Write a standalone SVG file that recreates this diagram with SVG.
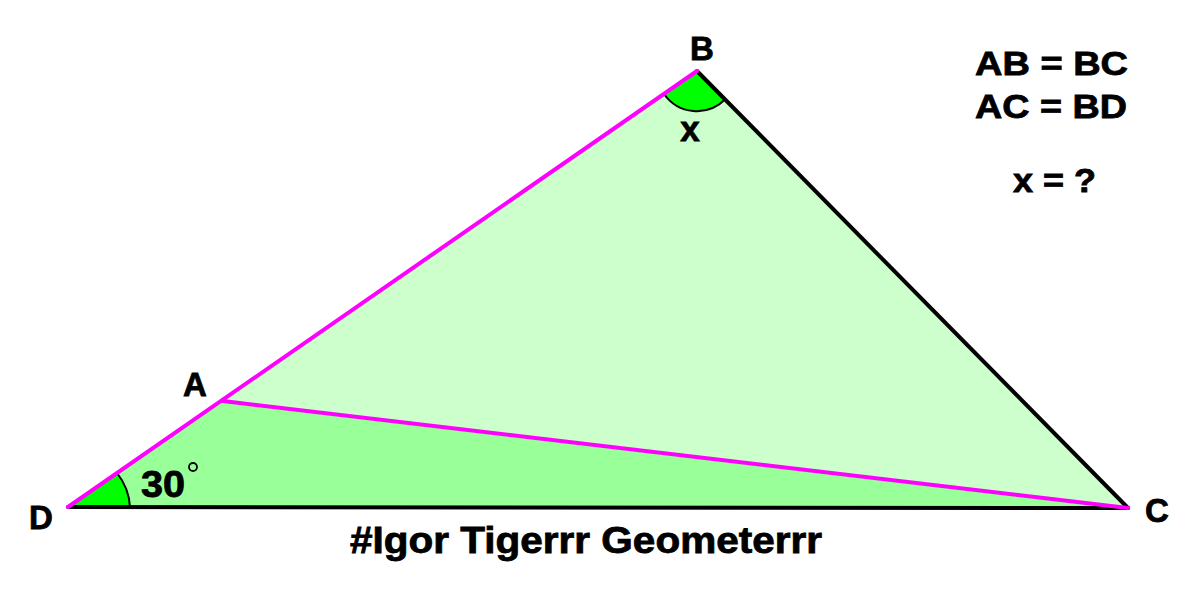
<svg xmlns="http://www.w3.org/2000/svg" width="1200" height="590" viewBox="0 0 1200 590">
<style>
text{font-family:"Liberation Sans",Arial,sans-serif;font-weight:bold;fill:#000;stroke:#000;stroke-width:0.8}
.lbl{font-size:33px}
.pink{stroke:#ff00ff;stroke-width:4;fill:none;stroke-linecap:round}
.blk{stroke:#000;stroke-width:4;fill:none;stroke-linecap:round}
</style>
<rect width="1200" height="590" fill="#fff"/>
<g id="fills">
<polygon points="223,401 697,71 1128,508" fill="#ccffcc"/>
<polygon points="68,507 223,401 1128,508" fill="#99ff99"/>
</g>
<g id="angles">
<path d="M697,71 L664,94 A40,40 0 0 0 725,99.5 Z" fill="#00ff00"/>
<path d="M664,94 A40,40 0 0 0 725,99.5" fill="none" stroke="#000" stroke-width="2"/>
<path d="M68,507 L117,473 A60,60 0 0 1 130,507 Z" fill="#00ff00"/>
<path d="M117,473 A60,60 0 0 1 130,507" fill="none" stroke="#000" stroke-width="2"/>
</g>
<g id="connectors">
<line class="blk" x1="68" y1="507" x2="1128" y2="508"/>
<line class="blk" x1="697" y1="71" x2="1128" y2="508"/>
<line class="pink" x1="68" y1="507" x2="697" y2="71"/>
<line class="pink" x1="223" y1="401" x2="1128" y2="508"/>
</g>
<g id="node-B"><text class="lbl" x="702" y="60" text-anchor="middle">B</text></g>
<g id="node-A"><text class="lbl" x="195" y="396" text-anchor="middle">A</text></g>
<g id="node-D"><text class="lbl" x="41" y="529" text-anchor="middle">D</text></g>
<g id="node-C"><text class="lbl" x="1157" y="522" text-anchor="middle">C</text></g>
<g id="angle-labels">
<text x="690" y="141" font-size="35" text-anchor="middle">x</text>
<text x="141" y="497" font-size="36" textLength="44" lengthAdjust="spacingAndGlyphs">30</text>
<circle cx="193" cy="467" r="4" fill="none" stroke="#000" stroke-width="1.8"/>
</g>
<g id="given">
<text x="975" y="75" font-size="34" textLength="153" lengthAdjust="spacingAndGlyphs">AB = BC</text>
<text x="975" y="118" font-size="34" textLength="152" lengthAdjust="spacingAndGlyphs">AC = BD</text>
<text x="1013" y="192" font-size="34" textLength="83" lengthAdjust="spacingAndGlyphs">x = ?</text>
</g>
<g id="credit">
<text x="350" y="553" font-size="37" textLength="472" lengthAdjust="spacingAndGlyphs">#Igor Tigerrr Geometerrr</text>
</g>
</svg>
